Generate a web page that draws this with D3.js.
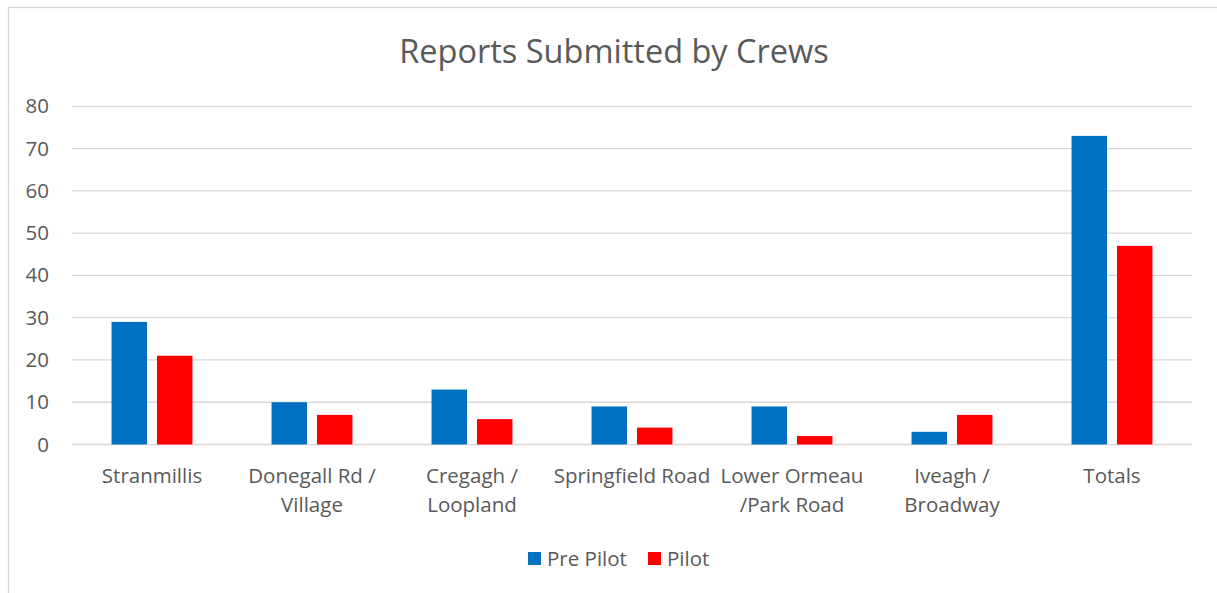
<!DOCTYPE html>
<html><head><meta charset="utf-8">
<script src="https://cdn.jsdelivr.net/npm/d3@7"></script>
<style>
html,body{margin:0;padding:0;background:#fff;}
svg{display:block;font-family:"Open Sans",sans-serif;}
</style></head>
<body>
<svg id="chart" width="1217" height="593"></svg>
<script>
const categories = ["Stranmillis", "Donegall Rd / Village", "Cregagh / Loopland", "Springfield Road", "Lower Ormeau /Park Road", "Iveagh / Broadway", "Totals"];
const categoryLines = [["Stranmillis"], ["Donegall Rd /", "Village"], ["Cregagh /", "Loopland"], ["Springfield Road"], ["Lower Ormeau", "/Park Road"], ["Iveagh /", "Broadway"], ["Totals"]];
const seriesNames = ["Pre Pilot", "Pilot"];
const prePilot = [29, 10, 13, 9, 9, 3, 73];
const pilot = [21, 7, 6, 4, 2, 7, 47];
const yTicks = [0, 10, 20, 30, 40, 50, 60, 70, 80];
const colors = ["#0070C0", "#FF0000"];
const title = "Reports Submitted by Crews";

const svg = d3.select("#chart");
const textColor = "#595959";
const gridColor = "#d9d9d9";
const labelSize = "20.5px";

// outer border
svg.append("rect").attr("x", 8.5).attr("y", 7.5).attr("width", 1230).attr("height", 620)
  .attr("fill", "none").attr("stroke", gridColor).attr("stroke-width", 1.3);

const x0 = d3.scaleBand().domain(categories).range([72, 1192]).padding(0);
const x1 = d3.scaleBand().domain(seriesNames).range([0, x0.bandwidth()]).paddingInner(0.22).paddingOuter(0.87);
const y = d3.scaleLinear().domain([0, 80]).range([444.5, 106.3]);

// gridlines
svg.append("g").selectAll("line").data(yTicks).join("line")
  .attr("x1", 72).attr("x2", 1192)
  .attr("y1", d => y(d)).attr("y2", d => y(d))
  .attr("stroke", gridColor).attr("stroke-width", 1.3);

// y axis labels
const yAxis = d3.axisLeft(y).tickValues(yTicks).tickSize(0).tickPadding(0);
const yg = svg.append("g").attr("transform", "translate(49,0)").call(yAxis);
yg.select(".domain").remove();
yg.selectAll("text").attr("fill", textColor).style("font-size", labelSize).style("font-family", "Open Sans");

// bars
const data = categories.map((c, i) => ({cat: c, vals: [prePilot[i], pilot[i]]}));
const groups = svg.append("g").selectAll("g").data(data).join("g")
  .attr("transform", d => `translate(${x0(d.cat)},0)`);
groups.selectAll("rect").data(d => d.vals.map((v, j) => ({s: seriesNames[j], v, j})))
  .join("rect")
  .attr("x", d => x1(d.s)).attr("width", x1.bandwidth())
  .attr("y", d => y(d.v)).attr("height", d => y(0) - y(d.v))
  .attr("fill", d => colors[d.j]);

// x labels
const xl = svg.append("g").selectAll("text").data(categories).join("text")
  .attr("x", d => x0(d) + x0.bandwidth() / 2)
  .attr("y", 483)
  .attr("text-anchor", "middle")
  .attr("fill", textColor).style("font-size", labelSize);
xl.each(function(d, i) {
  const t = d3.select(this);
  categoryLines[i].forEach((ln, k) => {
    t.append("tspan").attr("x", x0(d) + x0.bandwidth() / 2).attr("dy", k === 0 ? 0 : 29).text(ln);
  });
});

// title
svg.append("text").attr("x", 614).attr("y", 63).attr("text-anchor", "middle")
  .attr("fill", textColor).style("font-size", "32.5px").text(title);

// legend
const legend = svg.append("g");
const legendX = [528, 648];
seriesNames.forEach((s, i) => {
  legend.append("rect").attr("x", legendX[i]).attr("y", 552).attr("width", 13).attr("height", 13).attr("fill", colors[i]);
  legend.append("text").attr("x", legendX[i] + 19).attr("y", 566).attr("fill", textColor)
    .style("font-size", labelSize).text(s);
});
</script>
</body></html>
